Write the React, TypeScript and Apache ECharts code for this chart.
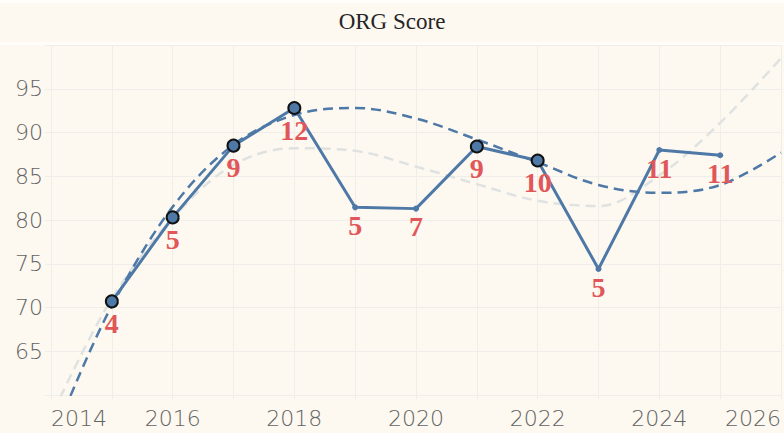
import React, { useEffect, useRef } from "react";
import * as echarts from "echarts";

const years = [2015, 2016, 2017, 2018, 2019, 2020, 2021, 2022, 2023, 2024, 2025];
const scores = [70.7, 80.3, 88.5, 92.8, 81.45, 81.3, 88.4, 86.8, 74.4, 88.0, 87.4];
const counts = [4, 5, 9, 12, 5, 7, 9, 10, 5, 11, 11];
const highlighted = [true, true, true, true, false, false, true, true, false, false, false];

const blueTrendYears = [2014.32, 2015, 2016, 2017, 2018, 2019, 2020, 2021, 2022, 2023, 2024, 2025, 2026];
const blueTrendValues = [59.9, 70.2, 81.5, 88.6, 92.0, 92.8, 91.6, 89.2, 86.6, 84.0, 83.1, 84.0, 87.7];

const grayTrendYears = [2014.15, 2015, 2016, 2017, 2018, 2019, 2020, 2021, 2022, 2023, 2024, 2025, 2026];
const grayTrendValues = [59.7, 71.0, 80.2, 86.3, 88.2, 87.9, 86.1, 84.1, 82.2, 81.6, 85.1, 91.1, 98.5];

const xTickLabels = [2014, 2016, 2018, 2020, 2022, 2024, 2026];
const yTickLabels = [65, 70, 75, 80, 85, 90, 95];

const BG = "#fdf9f1";
const GRID = "#efeeea";
const BLUE = "#4e79a7";
const RED = "#e15759";

export default function App() {
  const ref = useRef<HTMLDivElement>(null);
  useEffect(() => {
    document.body.style.margin = "0";
    const chart = echarts.init(ref.current!, null, { renderer: "svg" });
    const mainData = years.map((y, i) => ({
      value: [y, scores[i]],
      symbolSize: highlighted[i] ? 12 : 6,
      itemStyle: highlighted[i]
        ? { color: BLUE, borderColor: "#111111", borderWidth: 2 }
        : { color: BLUE, borderWidth: 0 },
      label: { formatter: String(counts[i]) },
    }));
    const axisFont = {
      fontFamily: "DejaVu Sans",
      fontWeight: 200,
      fontSize: 22,
      color: "#636363",
    };
    chart.setOption({
      animation: false,
      backgroundColor: BG,
      title: {
        text: "ORG Score",
        left: "center",
        top: 5,
        textStyle: {
          fontFamily: "Liberation Serif",
          fontSize: 23,
          fontWeight: "normal",
          color: "#262626",
        },
      },
      graphic: [
        { type: "rect", shape: { x: 0, y: 0, width: 784, height: 3 }, style: { fill: "#fffefb" }, silent: true },
        { type: "rect", shape: { x: 0, y: 42, width: 784, height: 3 }, style: { fill: "#fefdf9" }, silent: true },
      ],
      grid: { left: 51, right: 1, top: 45, bottom: 38, containLabel: false },
      xAxis: {
        type: "value",
        min: 2014,
        max: 2026,
        interval: 1,
        axisLine: { show: false },
        axisTick: { show: true, length: 4, lineStyle: { color: GRID } },
        splitLine: { show: true, lineStyle: { color: GRID, width: 1 } },
        axisLabel: {
          ...axisFont,
          margin: 12,
          alignMinLabel: "left",
          alignMaxLabel: "right",
          formatter: (v: number) => (xTickLabels.includes(v) ? String(v) : ""),
        },
      },
      yAxis: {
        type: "value",
        min: 60,
        max: 100,
        interval: 5,
        axisLine: { show: false },
        axisTick: { show: true, length: 6, lineStyle: { color: GRID } },
        splitLine: { show: true, lineStyle: { color: GRID, width: 1 } },
        axisLabel: {
          ...axisFont,
          margin: 8,
          formatter: (v: number) => (yTickLabels.includes(v) ? String(v) : ""),
        },
      },
      series: [
        {
          type: "line",
          data: grayTrendYears.map((y, i) => [y, grayTrendValues[i]]),
          smooth: 0.35,
          showSymbol: false,
          symbol: "none",
          lineStyle: { color: "#dfe2e0", width: 2.5, type: [10, 6] },
          silent: true,
          z: 1,
        },
        {
          type: "line",
          data: blueTrendYears.map((y, i) => [y, blueTrendValues[i]]),
          smooth: 0.35,
          showSymbol: false,
          symbol: "none",
          lineStyle: { color: BLUE, width: 2.5, type: [10, 6] },
          silent: true,
          z: 2,
        },
        {
          type: "line",
          data: mainData,
          symbol: "circle",
          showAllSymbol: true,
          lineStyle: { color: BLUE, width: 3 },
          label: {
            show: true,
            position: "bottom",
            distance: 1,
            fontFamily: "Liberation Serif",
            fontWeight: "bold",
            fontSize: 28,
            color: RED,
          },
          z: 3,
        },
      ],
    });
    return () => chart.dispose();
  }, []);
  return (
    <div
      ref={ref}
      style={{ position: "absolute", left: 0, top: 0, width: 784, height: 433 }}
    />
  );
}
